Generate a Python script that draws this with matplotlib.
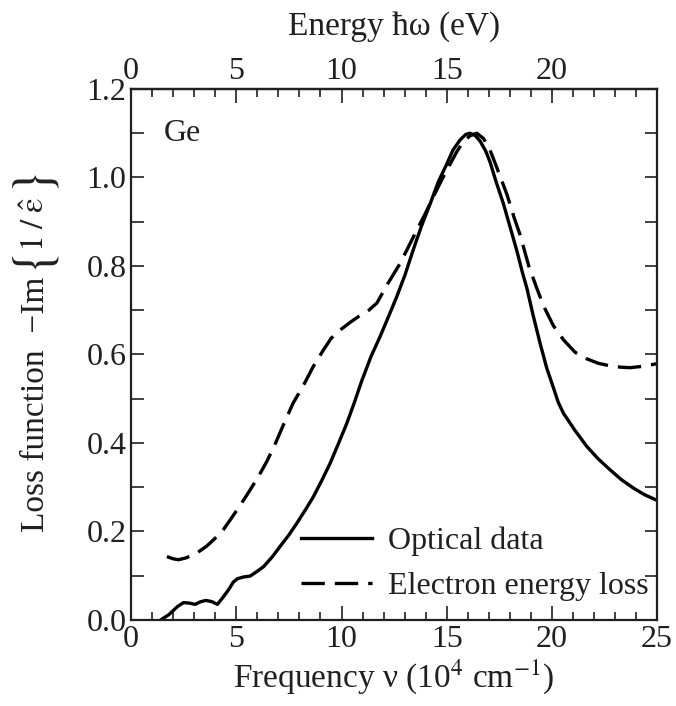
import matplotlib
matplotlib.use("Agg")
import matplotlib.pyplot as plt
from matplotlib.ticker import MultipleLocator, FixedLocator, FormatStrFormatter

# Ge loss function: optical data vs. electron energy loss
freq_optical = [1.41, 1.8, 2.2, 2.49, 2.75, 3.04, 3.3, 3.56, 3.85, 4.10, 4.35, 4.63,
                4.85, 5.05, 5.35, 5.66, 6.0, 6.29, 6.7, 7.08, 7.5, 7.87, 8.3, 8.67,
                9.06, 9.46, 9.85, 10.25, 10.6, 10.96, 11.4, 11.83, 12.23, 12.63,
                13.02, 13.42, 13.8, 14.21, 14.6, 15.0, 15.3, 15.64, 15.9, 16.1,
                16.35, 16.59, 16.85, 17.06, 17.35, 17.7, 18.0, 18.33, 18.6, 18.81,
                19.1, 19.44, 19.75, 20.07, 20.3, 20.55, 21.1, 21.66, 22.2, 22.77,
                23.3, 23.87, 24.4, 25.0]
loss_optical = [0.0, 0.012, 0.03, 0.039, 0.038, 0.035, 0.041, 0.044, 0.041, 0.035,
                0.05, 0.068, 0.085, 0.093, 0.097, 0.099, 0.11, 0.12, 0.142, 0.166,
                0.192, 0.218, 0.25, 0.279, 0.315, 0.354, 0.398, 0.444, 0.49, 0.54,
                0.595, 0.64, 0.685, 0.731, 0.78, 0.838, 0.89, 0.94, 0.99, 1.03,
                1.062, 1.085, 1.097, 1.10, 1.095, 1.082, 1.06, 1.035, 0.99, 0.94,
                0.89, 0.835, 0.785, 0.75, 0.69, 0.625, 0.57, 0.525, 0.492, 0.467,
                0.428, 0.392, 0.364, 0.339, 0.317, 0.298, 0.283, 0.27]

freq_eels = [1.70, 2.0, 2.25, 2.6, 3.12, 3.6, 4.07, 4.4, 4.71, 5.1, 5.5, 6.0, 6.45,
             6.85, 7.24, 7.7, 8.19, 8.65, 9.14, 9.5, 9.93, 10.4, 10.88, 11.3, 11.68,
             12.2, 12.79, 13.2, 13.58, 14.0, 14.37, 14.8, 15.16, 15.5, 15.79, 16.1,
             16.43, 16.75, 17.06, 17.4, 17.86, 18.2, 18.49, 18.9, 19.28, 19.6,
             20.07, 20.55, 21.1, 21.66, 22.2, 22.77, 23.3, 23.72, 24.3, 25.0]
loss_eels = [0.143, 0.138, 0.136, 0.14, 0.151, 0.167, 0.188, 0.205, 0.226, 0.253,
             0.282, 0.32, 0.358, 0.398, 0.441, 0.49, 0.53, 0.572, 0.61, 0.636,
             0.655, 0.672, 0.688, 0.70, 0.716, 0.76, 0.806, 0.845, 0.881, 0.92,
             0.957, 0.998, 1.03, 1.06, 1.08, 1.094, 1.10, 1.088, 1.062, 1.02, 0.962,
             0.91, 0.87, 0.80, 0.75, 0.71, 0.665, 0.633, 0.605, 0.59, 0.58, 0.574,
             0.571, 0.57, 0.573, 0.579]

energy_major = [0, 5, 10, 15, 20]

plt.rcParams['font.family'] = ['Liberation Serif', 'DejaVu Serif']
plt.rcParams['mathtext.fontset'] = 'stix'
txt = '#231f20'

fig = plt.figure(figsize=(6.76, 7.06), dpi=100)
ax = fig.add_axes([0.194, 0.122, 0.778, 0.752])

ax.plot(freq_optical, loss_optical, color='black', lw=2.4, label='Optical data')
ax.plot(freq_eels, loss_eels, color='black', lw=2.4, dashes=(7, 3),
        label='Electron energy loss')

ax.set_xlim(0, 25)
ax.set_ylim(0, 1.2)
ax.xaxis.set_major_locator(MultipleLocator(5))
ax.xaxis.set_minor_locator(MultipleLocator(1))
ax.yaxis.set_major_locator(MultipleLocator(0.2))
ax.yaxis.set_minor_locator(MultipleLocator(0.1))
ax.yaxis.set_major_formatter(FormatStrFormatter('%.1f'))

ax.tick_params(axis='x', which='major', direction='in', length=10, width=1.2,
               labelsize=23, colors=txt, pad=4)
ax.tick_params(axis='x', which='minor', direction='in', length=6, width=1.2, colors=txt)
ax.tick_params(axis='y', which='both', direction='in', length=9, width=1.2,
               right=True, labelsize=23, colors=txt)
for s in ax.spines.values():
    s.set_linewidth(1.6)
    s.set_color(txt)

sec = ax.secondary_xaxis('top')
sec.xaxis.set_major_locator(FixedLocator(energy_major))
sec.xaxis.set_minor_locator(MultipleLocator(1))
sec.tick_params(which='major', direction='in', length=10, width=1.2, labelsize=23,
                colors=txt, pad=2)
sec.tick_params(which='minor', direction='in', length=6, width=1.2, colors=txt)
sec.spines['top'].set_linewidth(1.6)
sec.set_xlabel('Energy ħω (eV)', fontsize=24, color=txt, labelpad=16)

ax.set_xlabel(r'Frequency ν (10$^4$ cm$^{-1}$)', fontsize=24, color=txt, labelpad=2)

# y label built from pieces so the braces can be drawn larger than the text
W, H = fig.get_size_inches() * fig.dpi
renderer = fig.canvas.get_renderer()
ylabel_parts = [('Loss function  −Im', 24, 0),
                (r'$\{$', 38, 2),
                (r'$1\;/\;\hat{\mathrm{\varepsilon}}$', 24, 2),
                (r'$\}$', 38, 2)]
ypos = 1 - 532 / H
for s, size, gap in ylabel_parts:
    ypos += gap / H
    t = fig.text(36 / W, ypos, s, rotation=90, ha='center', va='bottom',
                 fontsize=size, color=txt)
    bb = t.get_window_extent(renderer)
    ypos = bb.y1 / H

ax.text(1.55, 1.10, 'Ge', fontsize=23, color=txt, va='center', ha='left')

ax.legend(loc='lower right', bbox_to_anchor=(0.983, 0.035), frameon=False,
          fontsize=23, handlelength=2.2, handletextpad=0.5, labelspacing=0.5,
          borderpad=0, borderaxespad=0, labelcolor=txt)

fig.savefig('out.png', dpi=100)
